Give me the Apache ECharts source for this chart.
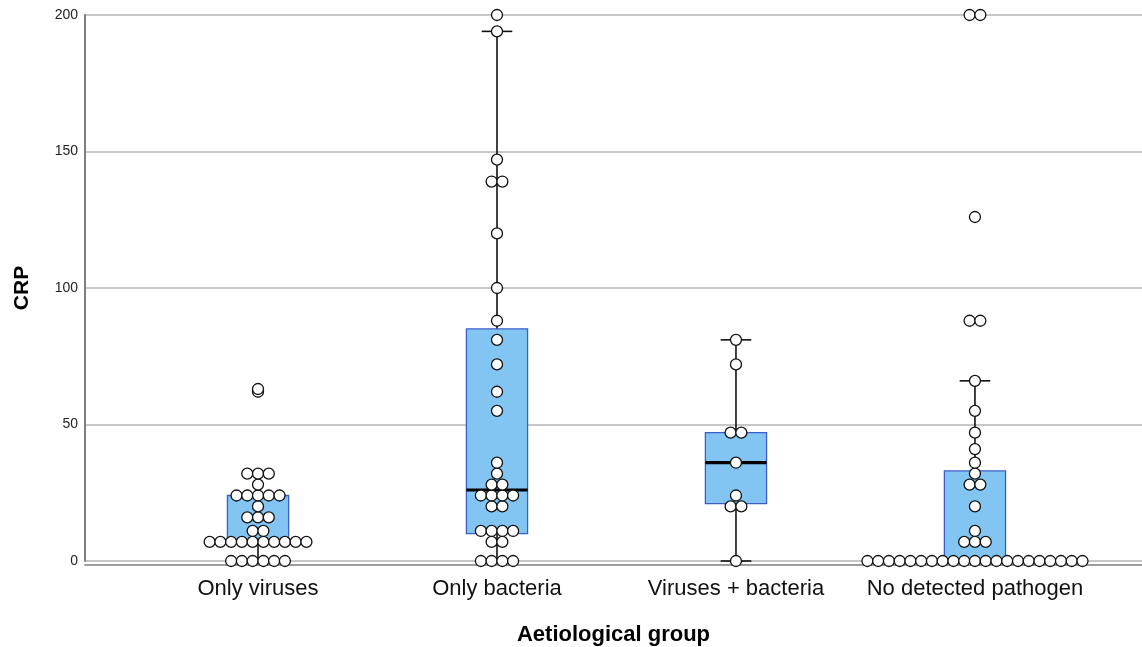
<!DOCTYPE html>
<html>
<head>
<meta charset="utf-8">
<script src="https://cdn.jsdelivr.net/npm/echarts@6.0.0/dist/echarts.min.js"></script>
<style>
  html, body { margin: 0; padding: 0; background: #fff; }
  #chart { width: 1142px; height: 647px; }
</style>
</head>
<body>
<div id="chart"></div>
<script>
// categories on the x axis
const categories = ['Only viruses', 'Only bacteria', 'Viruses + bacteria', 'No detected pathogen']

// CRP values per group
const onlyViruses = [0, 0, 0, 0, 0, 0, 7, 7, 7, 7, 7, 7, 7, 7, 7, 7, 11, 11, 16, 16, 16, 20,
  24, 24, 24, 24, 24, 28, 32, 32, 32, 62, 63]
const onlyBacteria = [0, 0, 0, 0, 7, 7, 11, 11, 11, 11, 20, 20, 24, 24, 24, 24, 28, 28, 32, 36,
  55, 62, 72, 81, 88, 100, 120, 139, 139, 147, 194, 200]
const virusesBacteria = [0, 20, 20, 24, 36, 47, 47, 72, 81]
const noPathogen = [0, 0, 0, 0, 0, 0, 0, 0, 0, 0, 0, 0, 0, 0, 0, 0, 0, 0, 0, 0, 0,
  7, 7, 7, 11, 20, 28, 28, 32, 36, 41, 47, 55, 66, 88, 88, 126, 200, 200]

// box plot statistics per group
const whiskerLow = [0, 0, 0, 0]
const quartile1 = [7, 10, 21, 0]
const medians = [7, 26, 36, 0]
const quartile3 = [24, 85, 47, 33]
const whiskerHigh = [32, 194, 81, 66]

// y axis ticks
const yTicks = [0, 50, 100, 150, 200]

const groups = [onlyViruses, onlyBacteria, virusesBacteria, noPathogen]
const dotStep = 0.045   // horizontal spacing of stacked dots, in category units
const boxHalf = 0.128
const capHalf = 0.064

// dot plot: identical values are laid side by side, centred on the category
function dotLayout(values, cat) {
  let counts = {}
  values.forEach(v => { counts[v] = (counts[v] || 0) + 1 })
  let out = []
  Object.keys(counts).forEach(k => {
    let n = counts[k]
    for (let i = 0; i < n; i++) {
      out.push([cat + (i - (n - 1) / 2) * dotStep, Number(k)])
    }
  })
  return out
}

let dots = []
groups.forEach((g, i) => { dots = dots.concat(dotLayout(g, i)) })

let boxData = categories.map((c, i) =>
  [i, whiskerLow[i], quartile1[i], medians[i], quartile3[i], whiskerHigh[i]])

function renderBox(params, api) {
  const cat = api.value(0)
  const low = api.value(1), q1 = api.value(2), med = api.value(3), q3 = api.value(4), high = api.value(5)
  const pLow = api.coord([cat, low])
  const pHigh = api.coord([cat, high])
  const pQ1 = api.coord([cat, q1])
  const pQ3 = api.coord([cat, q3])
  const boxL = api.coord([cat - boxHalf, q3])
  const boxR = api.coord([cat + boxHalf, q1])
  const medL = api.coord([cat - boxHalf, med])
  const medR = api.coord([cat + boxHalf, med])
  const capL = api.coord([cat - capHalf, 0])[0]
  const capR = api.coord([cat + capHalf, 0])[0]
  const whisk = { stroke: '#111', lineWidth: 1.6 }
  return {
    type: 'group',
    children: [
      { type: 'line', shape: { x1: pLow[0], y1: pLow[1], x2: pQ1[0], y2: pQ1[1] }, style: whisk },
      { type: 'line', shape: { x1: pQ3[0], y1: pQ3[1], x2: pHigh[0], y2: pHigh[1] }, style: whisk },
      { type: 'line', shape: { x1: capL, y1: pLow[1], x2: capR, y2: pLow[1] }, style: whisk },
      { type: 'line', shape: { x1: capL, y1: pHigh[1], x2: capR, y2: pHigh[1] }, style: whisk },
      {
        type: 'rect',
        shape: { x: boxL[0], y: boxL[1], width: boxR[0] - boxL[0], height: boxR[1] - boxL[1] },
        style: { fill: '#82c5f3', stroke: '#3d5ec6', lineWidth: 1.3 }
      },
      { type: 'line', shape: { x1: medL[0], y1: medL[1], x2: medR[0], y2: medR[1] }, style: { stroke: '#000', lineWidth: 3.2 } }
    ]
  }
}

const chart = echarts.init(document.getElementById('chart'))
chart.setOption({
  animation: false,
  backgroundColor: '#fff',
  textStyle: { fontFamily: 'Liberation Sans, Arial, sans-serif' },
  grid: { left: 85, right: 0, top: 15, bottom: 86, containLabel: false, outerBoundsMode: 'none' },
  xAxis: {
    type: 'value',
    min: -0.724,
    max: 3.699,
    offset: 4,
    name: 'Aetiological group',
    nameLocation: 'middle',
    nameGap: 59,
    nameTextStyle: { fontSize: 22, fontWeight: 'bold', color: '#000' },
    splitLine: { show: false },
    axisTick: { show: false },
    axisLine: { show: true, onZero: false, lineStyle: { color: '#7d7d7d', width: 1.6 } },
    axisLabel: {
      customValues: [0, 1, 2, 3],
      formatter: v => categories[Math.round(v)],
      fontSize: 22,
      color: '#111',
      margin: 13
    }
  },
  yAxis: {
    type: 'value',
    min: 0,
    max: 200,
    interval: 50,
    name: 'CRP',
    nameLocation: 'middle',
    nameGap: 52,
    nameTextStyle: { fontSize: 21, fontWeight: 'bold', color: '#000' },
    axisLine: { show: true, onZero: false, lineStyle: { color: '#7d7d7d', width: 2 } },
    axisTick: { show: false },
    axisLabel: {
      customValues: yTicks,
      fontSize: 14,
      color: '#222',
      margin: 7
    },
    splitLine: { show: true, lineStyle: { color: '#b5b5b5', width: 1.5 } }
  },
  series: [
    {
      type: 'custom',
      renderItem: renderBox,
      data: boxData,
      z: 2,
      silent: true
    },
    {
      type: 'scatter',
      data: dots,
      symbol: 'circle',
      symbolSize: 11,
      itemStyle: { color: '#fff', borderColor: '#111', borderWidth: 1.3, opacity: 1 },
      z: 3,
      silent: true
    }
  ]
})
</script>
</body>
</html>
